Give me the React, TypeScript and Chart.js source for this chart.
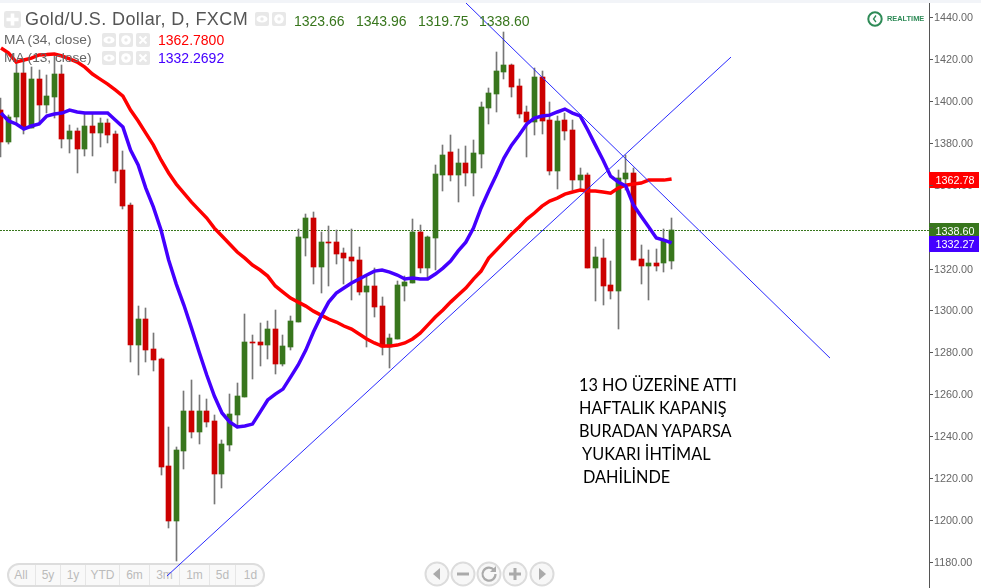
import React, { useEffect, useRef } from "react";
import { Chart, registerables } from "chart.js";

Chart.register(...registerables);

const opens = [1395.6,1380.4,1392.3,1413.3,1387.0,1410.4,1398.0,1401.8,1412.8,1381.8,1385.6,1377.0,1388.0,1384.6,1389.4,1384.2,1367.0,1350.3,1283.5,1295.9,1281.6,1276.8,1225.8,1199.5,1232.9,1252.0,1242.0,1252.0,1247.2,1222.0,1235.8,1250.1,1258.7,1285.2,1285.0,1283.5,1291.1,1274.4,1282.6,1294.5,1334.6,1344.1,1320.7,1332.9,1332.6,1327.4,1325.5,1324.1,1308.8,1311.7,1302.1,1282.6,1286.4,1311.7,1313.1,1337.4,1320.2,1334.6,1364.6,1375.6,1364.6,1370.3,1365.6,1374.6,1396.6,1403.3,1413.8,1417.1,1407.1,1394.7,1389.9,1411.4,1390.9,1366.5,1390.9,1386.1,1362.2,1364.6,1320.2,1325.0,1312.1,1309.3,1362.7,1365.6,1324.5,1321.2,1322.6,1322.6,1323.66];
const highs = [1401.4,1393.2,1418.0,1419.5,1416.1,1414.7,1412.3,1421.9,1417.1,1388.5,1387.0,1394.2,1394.2,1391.8,1391.3,1385.6,1376.1,1351.3,1302.1,1301.2,1289.2,1277.3,1244.4,1234.8,1261.6,1266.8,1259.6,1257.7,1250.1,1238.2,1260.1,1265.4,1298.3,1288.3,1294.0,1295.0,1300.2,1288.3,1297.3,1338.9,1346.0,1347.0,1337.4,1340.3,1338.4,1329.8,1338.9,1330.3,1316.9,1320.2,1306.4,1288.8,1314.0,1316.4,1343.6,1340.8,1335.5,1369.4,1378.9,1383.7,1377.0,1378.5,1381.3,1399.4,1406.1,1423.3,1432.8,1417.6,1410.4,1397.5,1415.7,1414.2,1399.4,1392.8,1394.2,1390.9,1368.0,1365.6,1330.3,1334.1,1323.6,1367.0,1374.1,1368.0,1331.2,1328.8,1329.3,1338.9,1343.96];
const lows = [1373.2,1379.4,1389.4,1384.2,1387.0,1389.9,1394.2,1391.8,1377.5,1375.1,1365.6,1373.7,1373.7,1378.0,1379.9,1360.8,1348.4,1275.4,1269.2,1275.4,1271.1,1221.5,1196.2,1180.4,1224.4,1239.1,1236.3,1244.4,1207.6,1215.3,1232.9,1243.9,1258.7,1267.3,1273.5,1276.8,1269.7,1273.5,1281.1,1294.5,1326.0,1312.6,1308.3,1311.7,1322.2,1312.6,1305.0,1307.4,1282.6,1296.9,1278.7,1272.5,1286.4,1304.5,1313.1,1317.9,1315.5,1319.3,1357.0,1361.8,1351.7,1359.4,1354.6,1368.0,1389.0,1394.7,1410.4,1401.8,1391.8,1373.2,1383.7,1384.2,1364.6,1357.9,1381.3,1357.5,1357.5,1320.2,1304.5,1302.6,1305.5,1291.1,1357.5,1324.1,1312.6,1305.0,1318.8,1318.3,1319.75];
const closes = [1380.4,1392.3,1413.3,1387.0,1410.4,1398.0,1402.3,1412.8,1381.8,1385.6,1377.0,1388.0,1384.6,1389.4,1383.7,1366.5,1349.8,1283.5,1295.9,1281.1,1276.3,1225.3,1199.5,1233.4,1252.0,1242.0,1252.0,1246.8,1222.0,1236.3,1250.6,1259.2,1285.0,1284.7,1283.5,1291.1,1274.4,1283.0,1295.0,1335.0,1344.1,1320.7,1332.6,1332.4,1326.9,1325.0,1323.6,1308.8,1311.7,1301.6,1282.6,1286.8,1312.1,1313.6,1337.4,1320.2,1335.0,1365.1,1374.1,1364.6,1370.3,1365.6,1375.1,1397.0,1403.7,1414.2,1417.1,1406.6,1393.7,1389.9,1411.4,1390.4,1366.5,1390.4,1385.6,1362.2,1364.6,1320.2,1325.5,1311.7,1309.3,1363.2,1365.6,1324.1,1321.2,1322.6,1321.2,1333.6,1338.60];
const ma34 = [1425.2,1422.8,1418.5,1419.5,1420.4,1421.9,1422.1,1422.4,1421.4,1420.0,1418.5,1416.1,1412.8,1410.4,1408.0,1405.2,1402.3,1395.6,1390.4,1384.6,1378.9,1371.8,1365.6,1360.3,1356.0,1351.7,1347.9,1344.1,1339.3,1335.5,1331.7,1327.9,1325.0,1321.7,1319.3,1316.4,1311.7,1308.8,1305.9,1304.0,1302.1,1299.7,1297.8,1295.9,1294.5,1292.6,1291.1,1288.8,1286.4,1284.5,1283.0,1283.0,1283.5,1284.5,1286.4,1289.2,1293.0,1296.9,1300.2,1304.0,1307.4,1310.7,1315.0,1318.8,1325.0,1328.8,1332.6,1336.5,1339.8,1343.6,1346.5,1349.8,1352.2,1353.6,1355.5,1356.5,1357.5,1357.0,1357.0,1356.5,1356.0,1358.4,1359.8,1360.3,1360.8,1362.2,1362.2,1362.2,1362.78];
const ma13 = [1394.2,1390.4,1389.0,1386.6,1388.0,1389.0,1392.8,1393.7,1394.2,1395.6,1394.7,1394.2,1394.2,1394.2,1394.2,1390.9,1387.5,1376.5,1369.4,1358.4,1349.3,1338.4,1324.1,1312.6,1302.6,1291.6,1280.2,1269.2,1259.2,1251.1,1246.8,1244.4,1244.9,1245.8,1251.5,1257.3,1260.1,1262.5,1268.2,1274.0,1281.1,1289.7,1297.3,1304.0,1308.3,1310.7,1313.1,1315.0,1316.9,1318.8,1319.3,1318.3,1316.9,1315.0,1315.5,1315.0,1315.0,1317.4,1320.2,1323.6,1328.4,1332.6,1339.3,1348.9,1357.0,1364.6,1372.7,1378.9,1383.7,1389.0,1391.8,1392.8,1393.2,1394.7,1396.1,1394.2,1392.8,1386.1,1378.9,1371.8,1364.1,1361.3,1359.4,1350.3,1345.0,1339.8,1334.6,1333.6,1332.27];

const trendUpX = [21.78, 95.8];
const trendUpY = [1173.3, 1420.9];
const trendDownX = [61.02, 108.79];
const trendDownY = [1446.7, 1277.3];

const lastPrice = 1338.6;
const headerValues = ["1323.66", "1343.96", "1319.75", "1338.60"];
const rangeButtons = ["All", "5y", "1y", "YTD", "6m", "3m", "1m", "5d", "1d"];
const note = ["13 HO ÜZERİNE ATTI", "HAFTALIK KAPANIŞ", "BURADAN YAPARSA", "YUKARI İHTİMAL", "DAHİLİNDE"];

const RED = "#cc0000";
const GREEN = "#38761d";
const SANS = '"Liberation Sans", Arial, sans-serif';

const snapBars = {
  id: "snapBars",
  beforeDatasetsDraw(chart: any) {
    chart.getSortedVisibleDatasetMetas().forEach((meta: any) => {
      if (meta.type === "bar") {
        meta.data.forEach((b: any) => {
          b.x = Math.round(b.x - 0.5) + 0.5;
          b.y = Math.round(b.y);
          b.base = Math.round(b.base);
          if (b.y === b.base) b.base = b.y + 1;
        });
      } else if (meta.data.length === 2 && meta.data[0].y === meta.data[1].y) {
        meta.data.forEach((p: any) => {
          p.y = Math.round(p.y) + 0.5;
        });
      }
    });
  },
};

const priceTags = {
  id: "priceTags",
  afterDraw(chart: any) {
    const { ctx, scales } = chart;
    const tags = [
      { v: ma34[ma34.length - 1], c: "#ff0000" },
      { v: lastPrice, c: GREEN },
      { v: ma13[ma13.length - 1], c: "#4400ff" },
    ];
    ctx.save();
    tags.forEach((t) => {
      const y = Math.round(scales.y.getPixelForValue(t.v));
      ctx.fillStyle = t.c;
      ctx.fillRect(929, y - 7, 50, 16);
      ctx.fillStyle = "#ffffff";
      ctx.font = `10.8px ${SANS}`;
      ctx.textBaseline = "middle";
      ctx.textAlign = "left";
      ctx.fillText(t.v.toFixed(2), 935.5, y + 2);
    });
    ctx.restore();
  },
};

function IconBox({ x, y, w, kind }: { x: number; y: number; w: number; kind: string }) {
  return (
    <svg style={{ position: "absolute", left: x, top: y }} width={w} height={w} viewBox="0 0 14 14">
      <rect x="0" y="0" width="14" height="14" rx="2" fill="#e8e8e8" />
      {kind === "plus" && <path d="M7 2V12M2 7H12" stroke="#fff" strokeWidth="3" />}
      {kind === "eye" && (
        <g>
          <ellipse cx="7" cy="7" rx="5.5" ry="3.6" fill="#fff" />
          <circle cx="7" cy="7" r="1.7" fill="#e8e8e8" />
        </g>
      )}
      {kind === "gear" && (
        <g>
          <circle cx="7" cy="7" r="4.8" fill="#fff" />
          <circle cx="7" cy="7" r="1.7" fill="#e8e8e8" />
        </g>
      )}
      {kind === "x" && <path d="M3.5 3.5L10.5 10.5M10.5 3.5L3.5 10.5" stroke="#fff" strokeWidth="2" />}
    </svg>
  );
}

function NavButton({ cx, kind }: { cx: number; kind: string }) {
  return (
    <svg style={{ position: "absolute", left: cx - 13, top: 561 }} width={26} height={26} viewBox="0 0 26 26">
      <circle cx="13" cy="13" r="11.5" fill="#f7f7f7" stroke="#dcdcdc" strokeWidth="2" />
      {kind === "left" && <path d="M16 7V19L9 13Z" fill="#aaa" />}
      {kind === "right" && <path d="M10 7V19L17 13Z" fill="#aaa" />}
      {kind === "minus" && <path d="M7 13H19" stroke="#aaa" strokeWidth="3" />}
      {kind === "plus" && <path d="M7 13H19M13 7V19" stroke="#aaa" strokeWidth="3" />}
      {kind === "reset" && (
        <g>
          <path d="M18 9A6.5 6.5 0 1 0 19.5 13" fill="none" stroke="#aaa" strokeWidth="2.2" />
          <path d="M20 5V11H14Z" fill="#aaa" />
        </g>
      )}
    </svg>
  );
}

const text = (left: number, top: number, size: number, color: string, extra: any = {}) => ({
  position: "absolute" as const,
  left,
  top,
  fontSize: size,
  color,
  fontFamily: SANS,
  lineHeight: `${size + 2}px`,
  whiteSpace: "pre" as const,
  ...extra,
});

const rangeEdges = [7, 36, 61, 86, 120, 150, 180, 210, 236, 265];
const noteStyle = (left: number, top: number) => ({ ...text(left, top, 16.3, "#000"), fontFamily: '"Lato", sans-serif' });

export default function App() {
  const ref = useRef<HTMLCanvasElement>(null);

  useEffect(() => {
    const canvas = ref.current!;
    const idx = opens.map((_, i) => i);
    const barColors = idx.map((i) => (closes[i] >= opens[i] ? GREEN : RED));
    const chart = new Chart(canvas, {
      type: "bar",
      data: {
        datasets: [
          {
            type: "line",
            data: trendUpX.map((x, i) => ({ x, y: trendUpY[i] })),
            borderColor: "#2a2aff",
            borderWidth: 1,
            pointRadius: 0,
            order: 0,
          },
          {
            type: "line",
            data: trendDownX.map((x, i) => ({ x, y: trendDownY[i] })),
            borderColor: "#2a2aff",
            borderWidth: 1,
            pointRadius: 0,
            order: 0,
          },
          {
            type: "line",
            data: idx.map((i) => ({ x: i, y: ma13[i] })),
            borderColor: "#4400ff",
            borderWidth: 3.5,
            pointRadius: 0,
            tension: 0,
            order: 1,
          },
          {
            type: "line",
            data: idx.map((i) => ({ x: i, y: ma34[i] })),
            borderColor: "#ff0000",
            borderWidth: 3.5,
            pointRadius: 0,
            tension: 0,
            order: 2,
          },
          {
            type: "bar",
            data: idx.map((i) => ({ x: i, y: [opens[i], closes[i]] })),
            backgroundColor: barColors,
            barThickness: 5,
            grouped: false,
            order: 3,
          },
          {
            type: "bar",
            data: idx.map((i) => ({ x: i, y: [lows[i], highs[i]] })),
            backgroundColor: "#777777",
            barThickness: 1,
            grouped: false,
            order: 4,
          },
          {
            type: "line",
            data: [
              { x: -0.131, y: lastPrice },
              { x: 121.78, y: lastPrice },
            ],
            borderColor: GREEN,
            borderWidth: 1,
            borderDash: [2, 1],
            pointRadius: 0,
            order: 5,
          },
        ] as any,
      },
      options: {
        responsive: false,
        animation: false,
        devicePixelRatio: 1,
        layout: { padding: { top: 3, left: 0, right: 0, bottom: 0 } },
        plugins: { legend: { display: false }, tooltip: { enabled: false }, title: { display: false } },
        scales: {
          x: {
            type: "linear",
            display: false,
            offset: false,
            min: -0.131,
            max: 121.78,
            grid: { display: false },
          },
          y: {
            position: "right",
            min: 1167.6,
            max: 1446.7,
            grid: { display: false, drawTicks: false },
            border: { display: true, color: "#555555", width: 1 },
            afterFit(scale: any) {
              scale.width = 52;
              scale.paddingTop = 0;
              scale.paddingBottom = 0;
            },
            ticks: {
              stepSize: 20,
              includeBounds: false,
              padding: 5,
              labelOffset: 1,
              color: "#666666",
              font: { family: SANS, size: 10.8 },
              callback: (v: any) => Number(v).toFixed(2),
            },
          },
        },
      } as any,
      plugins: [
        snapBars,
        priceTags,
        {
          id: "tickMarks",
          afterDraw(c: any) {
            const { ctx, scales } = c;
            ctx.save();
            ctx.fillStyle = "#555555";
            scales.y.ticks.forEach((t: any) => {
              ctx.fillRect(929, Math.round(scales.y.getPixelForValue(t.value)), 4, 1);
            });
            ctx.restore();
          },
        },
      ],
    });
    return () => chart.destroy();
  }, []);

  return (
    <div style={{ position: "absolute", left: 0, top: 0, width: 981, height: 588, overflow: "hidden", background: "#fff" }}>
      <div style={{ position: "absolute", left: 0, top: 0, width: 981, height: 3, background: "#f2f4f8" }} />

      <div
        style={{
          position: "absolute",
          left: 7,
          top: 563,
          width: 254,
          height: 20,
          border: "2px solid #dddddd",
          borderRadius: 12,
          background: "#f9f9f9",
        }}
      />
      {rangeButtons.map((label, i) => (
        <div
          key={label}
          style={text(rangeEdges[i], 565, 12, "#bbbbbb", {
            width: rangeEdges[i + 1] - rangeEdges[i],
            textAlign: "center",
            borderRight: i < rangeButtons.length - 1 ? "1px solid #e6e6e6" : "none",
            boxSizing: "border-box",
            height: 20,
            lineHeight: "20px",
          })}
        >
          {label}
        </div>
      ))}

      <canvas ref={ref} width={981} height={588} style={{ position: "absolute", left: 0, top: 0, display: "block" }} />

      <IconBox x={4} y={11} w={17} kind="plus" />
      <div style={text(25, 9, 18, "#555555", { letterSpacing: 0.4 })}>Gold/U.S. Dollar, D, FXCM</div>
      <IconBox x={255} y={12} w={14} kind="eye" />
      <IconBox x={272} y={12} w={14} kind="gear" />
      <div style={text(294, 13, 14, GREEN)}>{headerValues[0]}</div>
      <div style={text(356, 13, 14, GREEN)}>{headerValues[1]}</div>
      <div style={text(418, 13, 14, GREEN)}>{headerValues[2]}</div>
      <div style={text(479, 13, 14, GREEN)}>{headerValues[3]}</div>

      <div style={text(4, 32, 13.7, "#666666")}>MA (34, close)</div>
      <IconBox x={102} y={33} w={14} kind="eye" />
      <IconBox x={119} y={33} w={14} kind="gear" />
      <IconBox x={136} y={33} w={14} kind="x" />
      <div style={text(158, 32, 14, "#ff0000")}>1362.7800</div>

      <div style={text(4, 50, 13.7, "#666666")}>MA (13, close)</div>
      <IconBox x={102} y={51} w={14} kind="eye" />
      <IconBox x={119} y={51} w={14} kind="gear" />
      <IconBox x={136} y={51} w={14} kind="x" />
      <div style={text(158, 50, 14, "#4400ff")}>1332.2692</div>

      <svg style={{ position: "absolute", left: 866, top: 10 }} width={18} height={18} viewBox="0 0 18 18">
        <circle cx="9" cy="9" r="6.7" fill="none" stroke="#2e8b57" strokeWidth="2" />
        <path d="M10 5.5L7.5 9L10 12" fill="none" stroke="#2e8b57" strokeWidth="1.3" />
      </svg>
      <div style={text(887, 14, 7.4, "#2e8b57", { fontWeight: 700 })}>REALTIME</div>

      <div style={noteStyle(579, 376)}>{note[0]}</div>
      <div style={noteStyle(579, 399)}>{note[1]}</div>
      <div style={noteStyle(579, 422)}>{note[2]}</div>
      <div style={noteStyle(582, 445)}>{note[3]}</div>
      <div style={noteStyle(583, 468)}>{note[4]}</div>

      <NavButton cx={437} kind="left" />
      <NavButton cx={463} kind="minus" />
      <NavButton cx={489} kind="reset" />
      <NavButton cx={515} kind="plus" />
      <NavButton cx={542} kind="right" />
    </div>
  );
}
